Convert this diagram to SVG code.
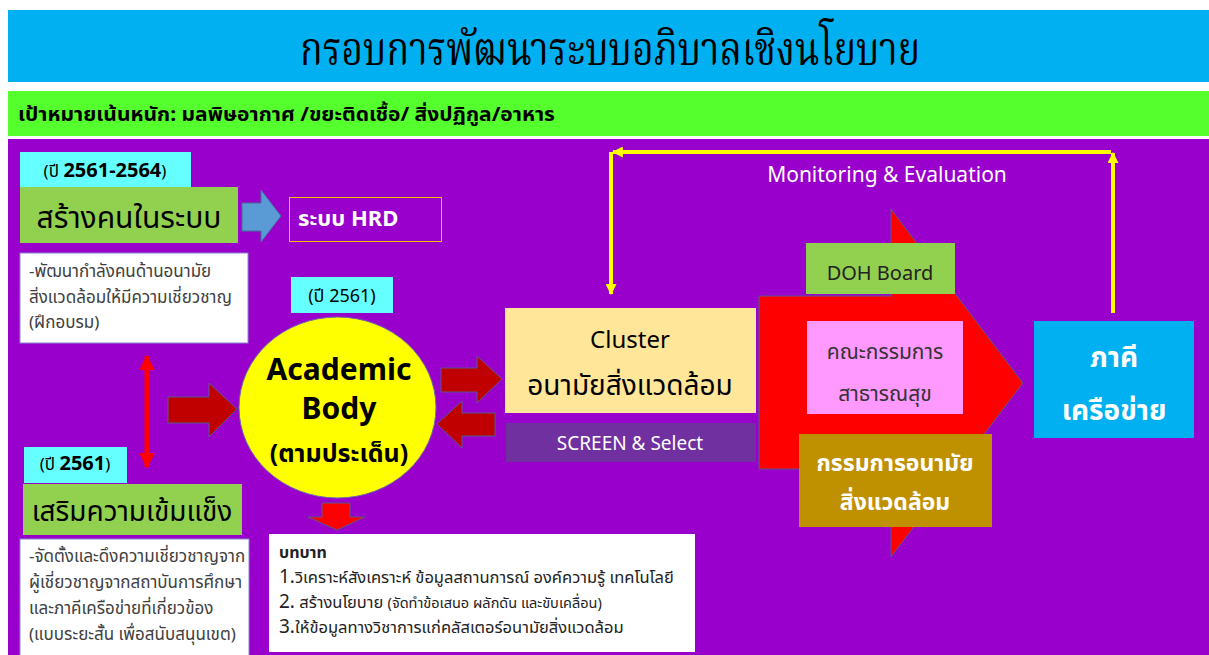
<svg xmlns="http://www.w3.org/2000/svg" width="1209" height="655" viewBox="0 0 1209 655">
<defs>
<style>
.th{font-family:"Noto Sans","Noto Sans Thai","Open Sans",sans-serif}
.tt{font-family:"Noto Serif Thai","Noto Serif","Noto Sans Thai","Noto Sans",serif}
.b{font-weight:bold}
.c{text-anchor:middle}
.dred{fill:#C00000;stroke:#5A5A8A;stroke-width:1}
</style>
<marker id="ya" viewBox="0 0 10 10" refX="9" refY="5" markerWidth="11" markerHeight="11" orient="auto-start-reverse" markerUnits="userSpaceOnUse"><path d="M0,0 L10,5 L0,10 Z" fill="#FFFF00"/></marker>
<marker id="ra" viewBox="0 0 10 10" refX="9" refY="5" markerWidth="16" markerHeight="16" orient="auto-start-reverse" markerUnits="userSpaceOnUse"><path d="M0,0 L10,5 L0,10 Z" fill="#FF0000"/></marker>
</defs>
<rect width="1209" height="655" fill="#FFFFFF"/>
<g id="title">
<rect x="8" y="10" width="1201" height="72" fill="#00B0F0"/>
<text x="610" y="65" class="tt c" font-size="46" fill="#000" textLength="620" lengthAdjust="spacingAndGlyphs">กรอบการพัฒนาระบบอภิบาลเชิงนโยบาย</text>
</g>
<g id="goal">
<rect x="8" y="91" width="1201" height="45" fill="#55FF2E"/>
<text x="18" y="121" class="th b" font-size="19" fill="#000" textLength="537" lengthAdjust="spacingAndGlyphs">เป้าหมายเน้นหนัก: มลพิษอากาศ /ขยะติดเชื้อ/ สิ่งปฏิกูล/อาหาร</text>
</g>
<rect x="8" y="139" width="1201" height="516" fill="#9900CC"/>

<g id="connectors">
<polyline points="1113,313 1113,153" fill="none" stroke="#FFFF00" stroke-width="4" marker-end="url(#ya)"/>
<polyline points="1111,152 613,152" fill="none" stroke="#FFFF00" stroke-width="4" marker-end="url(#ya)"/>
<polyline points="611,152 611,294" fill="none" stroke="#FFFF00" stroke-width="4" marker-end="url(#ya)"/>
<line x1="147" y1="356" x2="147" y2="467" stroke="#FF0000" stroke-width="5" marker-start="url(#ra)" marker-end="url(#ra)"/>
<polygon points="242,203 261,203 261,190 281,216 261,242 261,231 242,231" fill="#5B9BD5" stroke="#41719C" stroke-width="1"/>
<polygon class="dred" points="168,397 209,397 209,383 237,409 209,437 209,423 168,423"/>
<polygon class="dred" points="441,368 477,368 477,356 502,379 477,403 477,392 441,392"/>
<polygon class="dred" points="495,413 462,413 462,401 437,424 462,448 462,436 495,436"/>
<polygon points="322,503 350,503 350,517 365,517 337,530 308,517 322,517" fill="#FF0000" stroke="#5A5A8A" stroke-width="1"/>
</g>

<g id="n-year1">
<rect x="20" y="152" width="171" height="36" fill="#66FFFF"/>
<text x="105" y="177" class="th c" font-size="17" fill="#000">(ปี <tspan class="b" font-size="20">2561-2564</tspan>)</text>
</g>
<g id="n-build">
<rect x="20" y="187" width="218" height="56" fill="#92D050"/>
<text x="129" y="228" class="th c" font-size="30" fill="#000">สร้างคนในระบบ</text>
</g>
<g id="n-hrd">
<rect x="289.5" y="197.5" width="152" height="44" fill="#9900CC" stroke="#FFC000" stroke-width="1"/>
<text x="298" y="226" class="th b" font-size="22" fill="#FFFFFF">ระบบ HRD</text>
</g>
<g id="n-desc1">
<rect x="20" y="253" width="228" height="90" fill="#FFFFFF" stroke="#8888CC" stroke-width="1"/>
<text class="th" font-size="17" fill="#404040"><tspan x="29" y="277">-พัฒนากำลังคนด้านอนามัย</tspan><tspan x="29" y="303">สิ่งแวดล้อมให้มีความเชี่ยวชาญ</tspan><tspan x="29" y="328">(ฝึกอบรม)</tspan></text>
</g>
<g id="n-year2">
<rect x="24" y="447" width="103" height="36" fill="#66FFFF"/>
<text x="75" y="470" class="th c" font-size="17" fill="#000">(ปี <tspan class="b" font-size="20">2561</tspan>)</text>
</g>
<g id="n-strengthen">
<rect x="23" y="484" width="219" height="51" fill="#92D050"/>
<text x="132" y="521" class="th c" font-size="28" fill="#000">เสริมความเข้มแข็ง</text>
</g>
<g id="n-desc2">
<rect x="20" y="539" width="229" height="120" fill="#FFFFFF" stroke="#8888CC" stroke-width="1"/>
<text class="th" font-size="17" fill="#404040"><tspan x="29" y="562">-จัดตั้งและดึงความเชี่ยวชาญจาก</tspan><tspan x="29" y="588">ผู้เชี่ยวชาญจากสถาบันการศึกษา</tspan><tspan x="29" y="614">และภาคีเครือข่ายที่เกี่ยวข้อง</tspan><tspan x="29" y="640">(แบบระยะสั้น เพื่อสนับสนุนเขต)</tspan></text>
</g>
<g id="n-year3">
<rect x="291" y="277" width="102" height="36" fill="#66FFFF"/>
<text x="342" y="302" class="th c" font-size="18" fill="#000">(ปี 2561)</text>
</g>
<g id="n-academic">
<ellipse cx="337.5" cy="407.5" rx="98.5" ry="90.5" fill="#FFFF00" stroke="#6A6AAA" stroke-width="1"/>
<text x="339" y="380" class="th b c" font-size="30" fill="#000">Academic</text>
<text x="339" y="419" class="th b c" font-size="30" fill="#000">Body</text>
<text x="339" y="462" class="th b c" font-size="25" fill="#000">(ตามประเด็น)</text>
</g>
<g id="n-role">
<rect x="269" y="534" width="426" height="118" fill="#FFFFFF"/>
<text x="279" y="558" class="th b" font-size="16" fill="#222">บทบาท</text>
<text class="th" font-size="16.5" fill="#222"><tspan x="279" y="583"><tspan font-size="19">1.</tspan>วิเคราะห์สังเคราะห์ ข้อมูลสถานการณ์ องค์ความรู้ เทคโนโลยี</tspan><tspan x="279" y="608"><tspan font-size="19">2.</tspan> สร้างนโยบาย <tspan font-size="14.5">(จัดทำข้อเสนอ ผลักดัน และขับเคลื่อน)</tspan></tspan><tspan x="279" y="633"><tspan font-size="19">3.</tspan>ให้ข้อมูลทางวิชาการแก่คลัสเตอร์อนามัยสิ่งแวดล้อม</tspan></text>
</g>
<g id="n-cluster">
<rect x="505" y="308" width="251" height="105" fill="#FFE699"/>
<text x="630" y="348" class="th c" font-size="24" fill="#000">Cluster</text>
<text x="630" y="395" class="th c" font-size="28" fill="#000">อนามัยสิ่งแวดล้อม</text>
</g>
<g id="n-screen">
<rect x="506" y="423" width="250" height="39" fill="#7030A0"/>
<text x="630" y="450" class="th c" font-size="19" fill="#FFFFFF">SCREEN &amp; Select</text>
</g>
<g id="n-me">
<text x="887" y="182" class="th c" font-size="21" fill="#FFFFFF">Monitoring &amp; Evaluation</text>
</g>
<g id="n-bigarrow">
<polygon points="891,209 1023,383 891,557 891,469 759,469 759,296 891,296" fill="#FF0000" stroke="#5A5A8A" stroke-width="1"/>
</g>
<g id="n-doh">
<rect x="806" y="243" width="149" height="51" fill="#92D050"/>
<text x="880" y="280" class="th c" font-size="20" fill="#222">DOH Board</text>
</g>
<g id="n-phc">
<rect x="807" y="321" width="156" height="93" fill="#FF99FF"/>
<text x="885" y="359" class="th c" font-size="21" fill="#333">คณะกรรมการ</text>
<text x="885" y="401" class="th c" font-size="21" fill="#333">สาธารณสุข</text>
</g>
<g id="n-envcom">
<rect x="799" y="434" width="193" height="93" fill="#BF9000"/>
<text x="895" y="471" class="th b c" font-size="23" fill="#FFFFFF">กรรมการอนามัย</text>
<text x="895" y="510" class="th b c" font-size="23" fill="#FFFFFF">สิ่งแวดล้อม</text>
</g>
<g id="n-partner">
<rect x="1034" y="321" width="160" height="117" fill="#00B0F0"/>
<text x="1114" y="367" class="th b c" font-size="28" fill="#FFFFFF">ภาคี</text>
<text x="1114" y="420" class="th b c" font-size="28" fill="#FFFFFF">เครือข่าย</text>
</g>
</svg>
